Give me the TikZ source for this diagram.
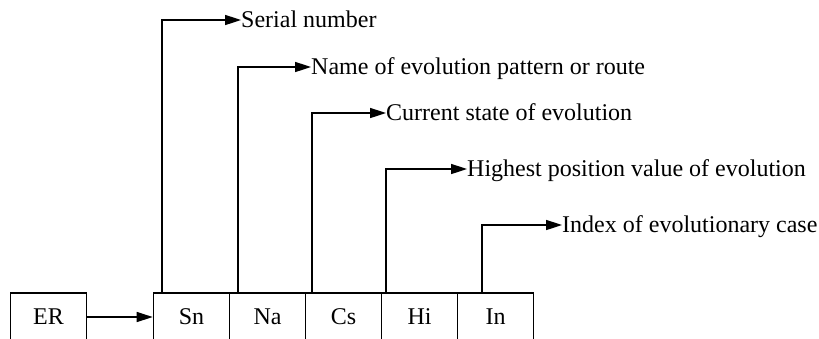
\documentclass[tikz,border=0pt]{standalone}
\usepackage{fontspec}
\setmainfont{Liberation Serif}
\usetikzlibrary{arrows.meta}
\begin{document}
\begin{tikzpicture}[x=1pt,y=-1pt,
  cell/.style={draw,line width=1.6pt,minimum width=76pt,minimum height=48pt,inner sep=0pt,
    font=\fontsize{24}{28}\selectfont},
  lab/.style={anchor=west,inner sep=0pt,text height=15pt,text depth=0pt,
    font=\fontsize{24}{28}\selectfont},
  conn/.style={line width=1.6pt,-{Triangle[length=16pt,width=10pt]}}]
\useasboundingbox (0,0) rectangle (819,338);
\clip (0,0) rectangle (819,338);
\node[cell] (ER) at (48.5,317) {ER};
\node[cell] (Sn) at (191.5,317) {Sn};
\node[cell] (Na) at (267.5,317) {Na};
\node[cell] (Cs) at (343.5,317) {Cs};
\node[cell] (Hi) at (419.5,317) {Hi};
\node[cell] (In) at (495.5,317) {In};
\node[lab] (l1) at (241,20) {Serial number};
\node[lab] (l2) at (311,67) {Name of evolution pattern or route};
\node[lab] (l3) at (386,113) {Current state of evolution};
\node[lab] (l4) at (467,169) {Highest position value of evolution};
\node[lab] (l5) at (562,225) {Index of evolutionary case};
\draw[conn] (ER.east) -- (Sn.west);
\draw[conn] ([xshift=9pt]Sn.north west) |- (l1.west);
\draw[conn] ([xshift=9pt]Na.north west) |- (l2.west);
\draw[conn] ([xshift=7pt]Cs.north west) |- (l3.west);
\draw[conn] ([xshift=5pt]Hi.north west) |- (l4.west);
\draw[conn] ([xshift=25pt]In.north west) |- (l5.west);
\end{tikzpicture}
\end{document}
